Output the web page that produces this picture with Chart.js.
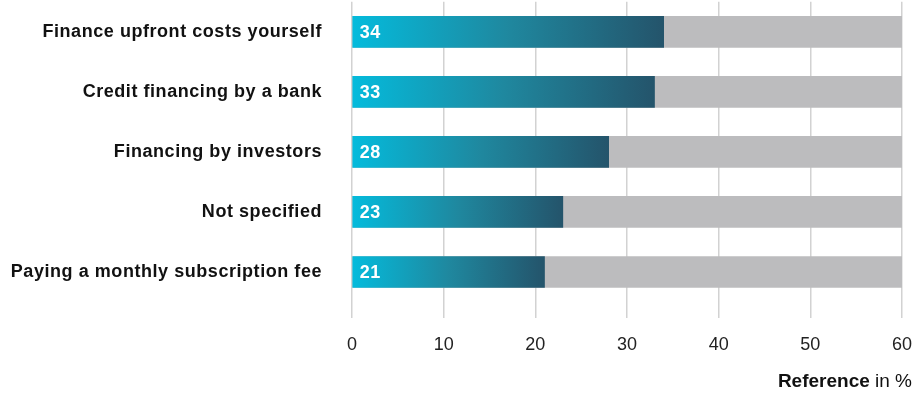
<!DOCTYPE html>
<html>
<head>
<meta charset="utf-8">
<script src="https://cdn.jsdelivr.net/npm/chart.js@4"></script>
<style>
  html, body { margin: 0; padding: 0; background: #fff; }
  #wrap { width: 916px; height: 394px; }
</style>
</head>
<body>
<div id="wrap"><canvas id="financing"></canvas></div>
<script>
const categories = [
  'Finance upfront costs yourself',
  'Credit financing by a bank',
  'Financing by investors',
  'Not specified',
  'Paying a monthly subscription fee',
];
const shares = [34, 33, 28, 23, 21];
const scaleMax = 60;
const tickValues = [0, 10, 20, 30, 40, 50, 60];

const FONT = '"Liberation Sans", Arial, Helvetica, sans-serif';

function barGradient(ctx) {
  const chart = ctx.chart;
  const x = chart.scales.x;
  if (!x || ctx.dataIndex === undefined) return '#1f889f';
  const x0 = x.getPixelForValue(0);
  const x1 = x.getPixelForValue(shares[ctx.dataIndex]);
  if (!isFinite(x0) || !isFinite(x1) || x1 <= x0) return '#1f889f';
  const g = chart.ctx.createLinearGradient(x0, 0, x1, 0);
  g.addColorStop(0, '#04bbdc');
  g.addColorStop(0.5, '#1f889f');
  g.addColorStop(1, '#24546b');
  return g;
}

// slightly wider tracking for the bold category labels (drawn before the bars)
const labelTracking = {
  id: 'labelTracking',
  beforeDraw(chart) { chart.ctx.letterSpacing = '0.55px'; },
  beforeDatasetsDraw(chart) { chart.ctx.letterSpacing = '0px'; },
};

// white value label at the start of each bar
const valueLabels = {
  id: 'valueLabels',
  afterDatasetsDraw(chart) {
    const meta = chart.getDatasetMeta(0);
    const c = chart.ctx;
    c.save();
    c.letterSpacing = '0.5px';
    c.fillStyle = '#fff';
    c.font = 'bold 18px ' + FONT;
    c.textAlign = 'left';
    c.textBaseline = 'middle';
    meta.data.forEach((bar, i) => {
      c.fillText(String(shares[i]), bar.base + 7, bar.y + 1);
    });
    c.restore();
  }
};

// axis caption with a bold first word
const axisCaption = {
  id: 'axisCaption',
  afterDraw(chart) {
    const c = chart.ctx;
    const right = chart.width - 4;
    const y = 382;
    c.save();
    c.letterSpacing = '0px';
    c.fillStyle = '#111';
    c.textBaseline = 'middle';
    c.textAlign = 'right';
    c.font = '19px ' + FONT;
    const tail = ' in %';
    c.fillText(tail, right, y);
    const tw = c.measureText(tail).width;
    c.font = 'bold 19px ' + FONT;
    c.fillText('Reference', right - tw, y);
    c.restore();
  }
};

new Chart(document.getElementById('financing'), {
  type: 'bar',
  data: {
    labels: categories,
    datasets: [
      {
        label: 'Share',
        data: shares,
        backgroundColor: barGradient,
        barThickness: 31,
        grouped: false,
        order: 1,
      },
      {
        label: 'Scale',
        data: categories.map(() => scaleMax),
        backgroundColor: '#bcbcbe',
        barThickness: 31,
        grouped: false,
        order: 2,
      },
    ],
  },
  options: {
    indexAxis: 'y',
    responsive: true,
    maintainAspectRatio: false,
    animation: false,
    layout: { padding: { top: 1, right: 14, left: 0, bottom: 0 } },
    plugins: {
      legend: { display: false },
      tooltip: { enabled: false },
    },
    scales: {
      x: {
        min: 0,
        max: scaleMax,
        afterBuildTicks(axis) {
          axis.ticks = tickValues.map((v) => ({ value: v }));
        },
        afterFit(axis) { axis.height = 92; },
        grid: {
          color: '#d2d2d2',
          lineWidth: 1.5,
          drawTicks: true,
          tickLength: 16,
          tickColor: '#d2d2d2',
        },
        border: { display: false },
        ticks: {
          z: 1,
          padding: 2,
          color: '#222',
          font: { family: FONT, size: 18, lineHeight: 2.8 },
        },
      },
      y: {
        afterFit(axis) { axis.width = 352; },
        grid: { display: false, drawTicks: true, tickLength: 30 },
        border: { display: false },
        ticks: {
          padding: 0,
          color: '#111',
          font: { family: FONT, size: 18, weight: 'bold', lineHeight: 0.2 },
        },
      },
    },
  },
  plugins: [labelTracking, valueLabels, axisCaption],
});
</script>
</body>
</html>
